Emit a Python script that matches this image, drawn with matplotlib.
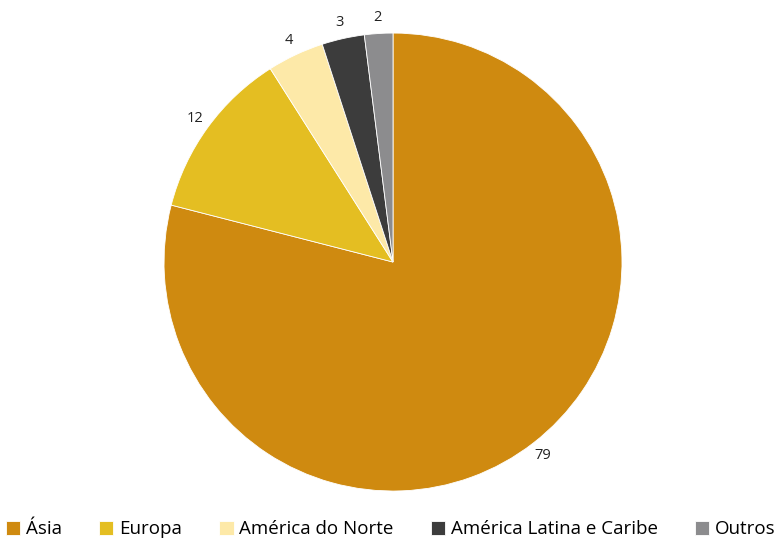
import matplotlib.pyplot as plt

plt.rcParams['font.family'] = ['Open Sans', 'DejaVu Sans']

regions = ["Ásia", "Europa", "América do Norte", "América Latina e Caribe", "Outros"]
shares = [79, 12, 4, 3, 2]
colors = ["#CF8A10", "#E4BE22", "#FDE9A8", "#3C3C3C", "#8C8C8E"]

fig = plt.figure(figsize=(7.77, 5.4), dpi=100)
ax = fig.add_axes([0.2111, 0.0907, 0.5894, 0.8481])

wedges, texts = ax.pie(
    shares,
    labels=[str(v) for v in shares],
    colors=colors,
    startangle=90,
    counterclock=False,
    labeldistance=1.07,
    wedgeprops=dict(edgecolor="white", linewidth=0.6),
    textprops=dict(fontsize=10.5, color="#222222"),
)
for t in texts:
    t.set_ha("center")
    t.set_va("center")

# make the pie fill the axes box
ax.set_xlim(-1, 1)
ax.set_ylim(-1, 1)
ax.set_aspect("equal")

fig.legend(
    wedges, regions,
    loc="center left", bbox_to_anchor=(0.008, 0.02),
    ncol=5, frameon=False, fontsize=13.5,
    handlelength=0.75, handleheight=0.75, handletextpad=0.3,
    columnspacing=2.0, borderpad=0.0, borderaxespad=0.0,
)

fig.savefig("out.png", dpi=100)
